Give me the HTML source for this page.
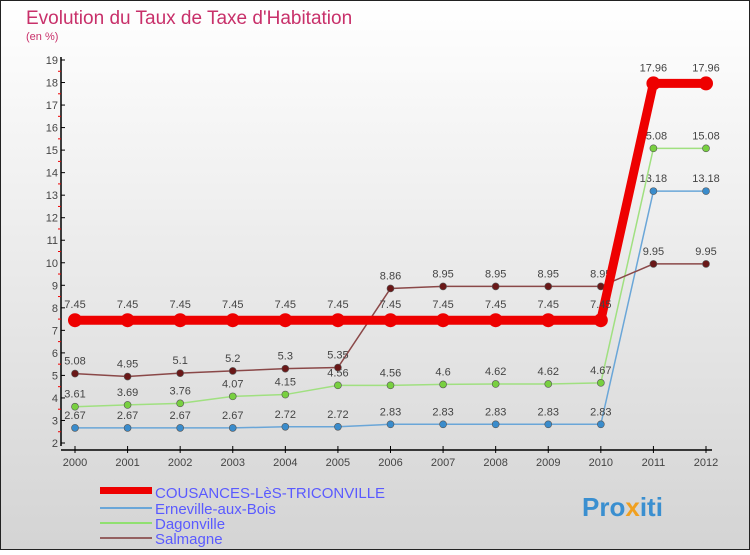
<!DOCTYPE html>
<html><head><meta charset="utf-8"><style>
html,body{margin:0;padding:0}
body{width:750px;height:550px;overflow:hidden;font-family:"Liberation Sans",sans-serif}
svg text{font-family:"Liberation Sans",sans-serif}
</style></head><body>
<svg id="chart" width="750" height="550" xmlns="http://www.w3.org/2000/svg">
<defs><linearGradient id="bg" x1="0" y1="0" x2="0" y2="1"><stop offset="0" stop-color="#ffffff"/><stop offset="1" stop-color="#d4d4d4"/></linearGradient></defs>
<rect x="0.5" y="0.5" width="749" height="549" fill="url(#bg)" stroke="#222"/>
<text x="26" y="24" font-size="19" fill="#c8306a">Evolution du Taux de Taxe d'Habitation</text>
<text x="26" y="40" font-size="11" fill="#c8306a">(en %)</text>
<g id="axes"></g><g id="series"></g>
<g>
<rect x="100" y="487" width="52" height="7" fill="#ee0000"/>
<text x="155" y="498" font-size="15" fill="#5a5aff">COUSANCES-LèS-TRICONVILLE</text>
<line x1="100" y1="508" x2="152" y2="508" stroke="#6aa6d8" stroke-width="2"/>
<text x="155" y="514" font-size="15" fill="#5a5aff">Erneville-aux-Bois</text>
<line x1="100" y1="523" x2="152" y2="523" stroke="#90e070" stroke-width="2"/>
<text x="155" y="529" font-size="15" fill="#5a5aff">Dagonville</text>
<line x1="100" y1="538" x2="152" y2="538" stroke="#946060" stroke-width="2"/>
<text x="155" y="544" font-size="15" fill="#5a5aff">Salmagne</text>
</g>
<text x="582" y="516" font-size="26" font-weight="bold" fill="#3a8fd0">Pro<tspan fill="#f0a020">x</tspan>iti</text>
</svg>
<script>
const years=[2000,2001,2002,2003,2004,2005,2006,2007,2008,2009,2010,2011,2012];
const yTicks=[2,3,4,5,6,7,8,9,10,11,12,13,14,15,16,17,18,19];
const cousances=[7.45,7.45,7.45,7.45,7.45,7.45,7.45,7.45,7.45,7.45,7.45,17.96,17.96];
const erneville=[2.67,2.67,2.67,2.67,2.72,2.72,2.83,2.83,2.83,2.83,2.83,13.18,13.18];
const dagonville=[3.61,3.69,3.76,4.07,4.15,4.56,4.56,4.6,4.62,4.62,4.67,15.08,15.08];
const salmagne=[5.08,4.95,5.1,5.2,5.3,5.35,8.86,8.95,8.95,8.95,8.95,9.95,9.95];
const NS='http://www.w3.org/2000/svg';
const X=i=>75+i*(706-75)/(years.length-1);
const Y=v=>443-(v-2)*(443-60)/17;
function mk(t,a,p){const e=document.createElementNS(NS,t);for(const k in a)e.setAttribute(k,a[k]);p.appendChild(e);return e;}
const ax=document.getElementById('axes');
const yl=mk('line',{x1:61,y1:57,x2:61,y2:446,stroke:'#000','stroke-width':1.5},ax);


const xl=mk('line',{x1:61,y1:450,x2:712,y2:450,stroke:'#000','stroke-width':1.5},ax);


yTicks.forEach(v=>{
  mk('line',{x1:61,y1:Y(v),x2:65,y2:Y(v),stroke:'#000'},ax);
  if(v<19) mk('line',{x1:58,y1:Y(v+0.5),x2:61,y2:Y(v+0.5),stroke:'#e00'},ax);
  const t=mk('text',{x:58,y:Y(v)+4,'font-size':11,'text-anchor':'end',fill:'#444'},ax);t.textContent=v;
  
  
});
years.forEach((yr,i)=>{
  mk('line',{x1:X(i),y1:446,x2:X(i),y2:453,stroke:'#000'},ax);
  const t=mk('text',{x:X(i),y:466,'font-size':11,'text-anchor':'middle',fill:'#444'},ax);t.textContent=yr;
  
  
});
const sg=document.getElementById('series');
function draw(vals,name,color,dot,w,r){
  const g=mk('g',{},sg);
  
  
  const pl=mk('polyline',{points:vals.map((v,i)=>X(i)+','+Y(v)).join(' '),fill:'none',stroke:color,'stroke-width':w},g);
  
  
  vals.forEach((v,i)=>{
    const c=mk('circle',{cx:X(i),cy:Y(v),r:r,fill:dot,stroke:'#555','stroke-width':r>5?0:0.6},g);
    
    
    const t=mk('text',{x:X(i),y:Y(v)-(r>5?12:9),'font-size':11,'text-anchor':'middle',fill:'#444'},g);
    t.textContent=String(v);
    
    
  });
}
draw(erneville,'erneville','#6aa6d8','#3a8ccc',1.5,3.5);
draw(dagonville,'dagonville','#a0e080','#78d040',1.5,3.5);
draw(salmagne,'salmagne','#8a4848','#6a1818',1.5,3.5);
draw(cousances,'cousances','#ee0000','#ee0000',9,7);
</script>
</body></html>
